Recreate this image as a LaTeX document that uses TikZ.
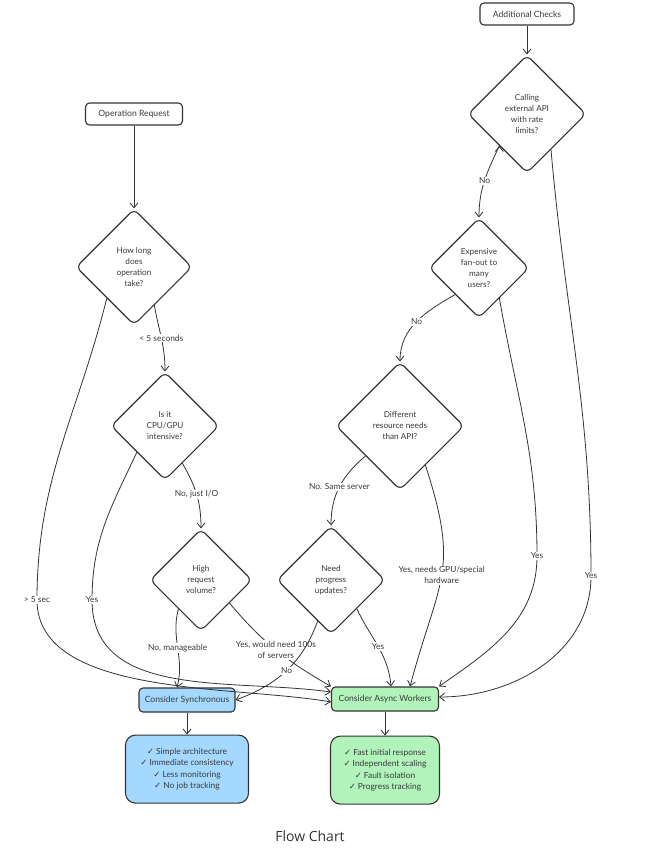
\documentclass[tikz,border=0pt]{standalone}
\usepackage{fontspec}
\setmainfont{Lato}
\newfontfamily\titlefont{Open Sans}
\newfontfamily\symfont{DejaVu Sans}
\newcommand{\ck}{{\symfont ✓}}
\usetikzlibrary{shapes.geometric, positioning, arrows.meta}
\definecolor{ink}{HTML}{333333}
\definecolor{txt}{HTML}{3A3A3A}
\definecolor{syncblue}{HTML}{A5D8FF}
\definecolor{asyncgreen}{HTML}{B2F2BB}

\begin{document}
\begin{tikzpicture}[x=1pt,y=1pt,>={Straight Barb[length=5pt,width=8pt]},line width=0.8pt,
box/.style={draw=ink,line width=1.1pt,rounded corners=4pt,fill=white,minimum height=22pt,inner xsep=2pt,text=txt,font=\fontsize{8.6}{11}\selectfont},
dec/.style={diamond,draw=ink,line width=1.1pt,rounded corners=6pt,fill=white,inner sep=1pt,align=center,text=txt,font=\fontsize{8.2}{11}\selectfont},
lbl/.style={fill=white,inner sep=1pt,align=center,text=txt,font=\fontsize{8.4}{11}\selectfont},
list/.style={draw=ink,line width=1.1pt,rounded corners=10pt,minimum height=68pt,align=center,text=txt,font=\fontsize{8.4}{11.3}\selectfont}]
\useasboundingbox (0,0) rectangle (651,-857);
\node[box,minimum width=94pt] (add) at (527,-14) {Additional Checks};
\node[box,minimum width=97pt] (req) at (134,-114) {Operation Request};
\node[dec,minimum size=116pt] (len) at (134,-267) {How long\\does\\operation\\take?};
\node[dec,minimum size=118pt] (api) at (527,-114) {Calling\\external API\\with rate\\limits?};
\node[dec,minimum size=100pt] (fan) at (479,-268) {Expensive\\fan-out to\\many\\users?};
\node[dec,minimum size=128pt] (res) at (400,-426) {Different\\resource needs\\than API?};
\node[dec,minimum size=108pt] (cpu) at (165,-426) {Is it\\CPU/GPU\\intensive?};
\node[dec,minimum size=102pt] (vol) at (201,-580) {High\\request\\volume?};
\node[dec,minimum size=108pt] (prog) at (331,-580) {Need\\progress\\updates?};
\node[box,fill=syncblue,minimum width=96pt,minimum height=24pt] (sync) at (187,-700) {Consider Synchronous};
\node[box,fill=asyncgreen,minimum width=107pt,minimum height=24pt] (async) at (385,-699) {Consider Async Workers};
\node[list,fill=syncblue,minimum width=123pt,below=22pt of sync] (sl) {\ck~Simple architecture\\\ck~Immediate consistency\\\ck~Less monitoring\\\ck~No job tracking};
\node[list,fill=asyncgreen,minimum width=109pt,below=24pt of async] (al) {\ck~Fast initial response\\\ck~Independent scaling\\\ck~Fault isolation\\\ck~Progress tracking};
\node[text=ink,font=\titlefont\fontsize{14}{16}\selectfont] (title) at (310,-836) {Flow Chart};
\coordinate (w1) at (37,-600);
\coordinate (w2) at (92,-600);
\coordinate (w3) at (537,-556);
\coordinate (w4) at (591,-576);

\draw[->,ink] (add) edge (api)
(req) edge (len)
(len.-62) edge[out=-80,in=90] node[lbl]{< 5 seconds} (cpu)
(cpu.-65) edge[out=-60,in=90] node[lbl]{No, just I/O} (vol)
(vol.-128) edge[out=-105,in=75] node[lbl]{No, manageable} ([xshift=-10pt]sync.north)
(vol.-39) edge[out=-50,in=150] node[lbl]{Yes, would need 100s\\of servers} (async.north west)
(prog.-108) edge[out=-110,in=20] node[lbl]{No} (sync.east)
(prog.-48) edge[out=-65,in=95] node[lbl]{Yes} ([xshift=6pt]async.north)
(res.-139) edge[out=-140,in=90] node[lbl]{No. Same server} (prog)
(res.-57) edge[out=-72,in=75,looseness=1.3] node[lbl]{Yes, needs GPU/special\\hardware} ([xshift=25pt]async.north)
(fan.-132) edge[out=-150,in=90] node[lbl]{No} (res)
(api.-131) edge[out=-115,in=90] node[lbl]{No} (fan)
(sync) edge (sl)
(async) edge (al);
\draw[->,ink] (len.-131) to[out=-104,in=90] (w1) node[lbl]{> 5 sec} to[out=-90,in=170,looseness=0.8] ([yshift=-3pt]async.west);
\draw[->,ink] (cpu.-137) to[out=-115,in=90] (w2) node[lbl]{Yes} to[out=-90,in=172] ([yshift=7pt]async.west);
\draw[->,ink] (fan.-56) to[out=-80,in=90] (w3) node[lbl]{Yes} to[out=-90,in=35] (async.north east);
\draw[->,ink] (api.-56) to[out=-85,in=90] (w4) node[lbl]{Yes} to[out=-90,in=0] ([yshift=2pt]async.east);
\end{tikzpicture}
\end{document}
